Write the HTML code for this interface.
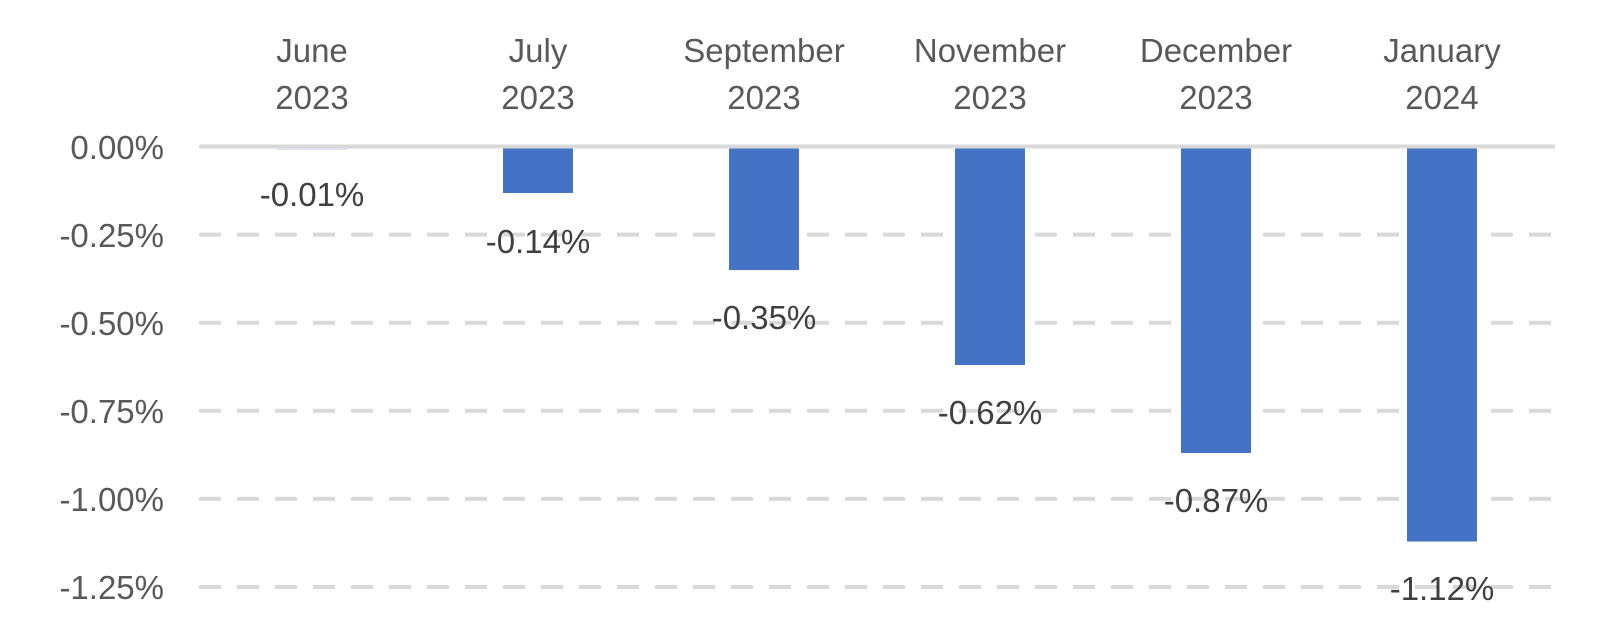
<!DOCTYPE html>
<html><head><meta charset="utf-8"><style>
html,body{margin:0;padding:0;background:#fff;}
svg{display:block;font-family:"Liberation Sans",sans-serif;}
</style></head><body>
<svg width="1600" height="639" viewBox="0 0 1600 639">
<g stroke="#d9d9d9" stroke-width="4" stroke-dasharray="22 16">
<line x1="199" x2="1555" y1="234.6" y2="234.6"/>
<line x1="199" x2="1555" y1="322.7" y2="322.7"/>
<line x1="199" x2="1555" y1="410.8" y2="410.8"/>
<line x1="199" x2="1555" y1="498.9" y2="498.9"/>
<line x1="199" x2="1555" y1="587" y2="587"/>
</g>
<line x1="199" x2="1555" y1="146.5" y2="146.5" stroke="#d9d9d9" stroke-width="4"/>
<g fill="#4472c4">
<rect x="277" y="148.5" width="70" height="1.5" fill="#dfe6f3"/>
<rect x="503" y="148.5" width="70" height="44.5"/>
<rect x="729" y="148.5" width="70" height="121.5"/>
<rect x="955" y="148.5" width="70" height="216.5"/>
<rect x="1181" y="148.5" width="70" height="304.5"/>
<rect x="1407" y="148.5" width="70" height="393"/>
</g>
<g fill="#595959" font-size="33" text-anchor="end">
<text x="164" y="159">0.00%</text>
<text x="164" y="247">-0.25%</text>
<text x="164" y="335">-0.50%</text>
<text x="164" y="423">-0.75%</text>
<text x="164" y="511">-1.00%</text>
<text x="164" y="599">-1.25%</text>
</g>
<g fill="#595959" font-size="33" text-anchor="middle">
<text x="312" y="62">June</text><text x="312" y="109">2023</text>
<text x="538" y="62">July</text><text x="538" y="109">2023</text>
<text x="764" y="62">September</text><text x="764" y="109">2023</text>
<text x="990" y="62">November</text><text x="990" y="109">2023</text>
<text x="1216" y="62">December</text><text x="1216" y="109">2023</text>
<text x="1442" y="62">January</text><text x="1442" y="109">2024</text>
</g>
<g fill="#404040" font-size="33" text-anchor="middle">
<text x="312" y="206">-0.01%</text>
<text x="538" y="253">-0.14%</text>
<text x="764" y="329">-0.35%</text>
<text x="990" y="424">-0.62%</text>
<text x="1216" y="512">-0.87%</text>
<text x="1442" y="600">-1.12%</text>
</g>
</svg>
</body></html>
